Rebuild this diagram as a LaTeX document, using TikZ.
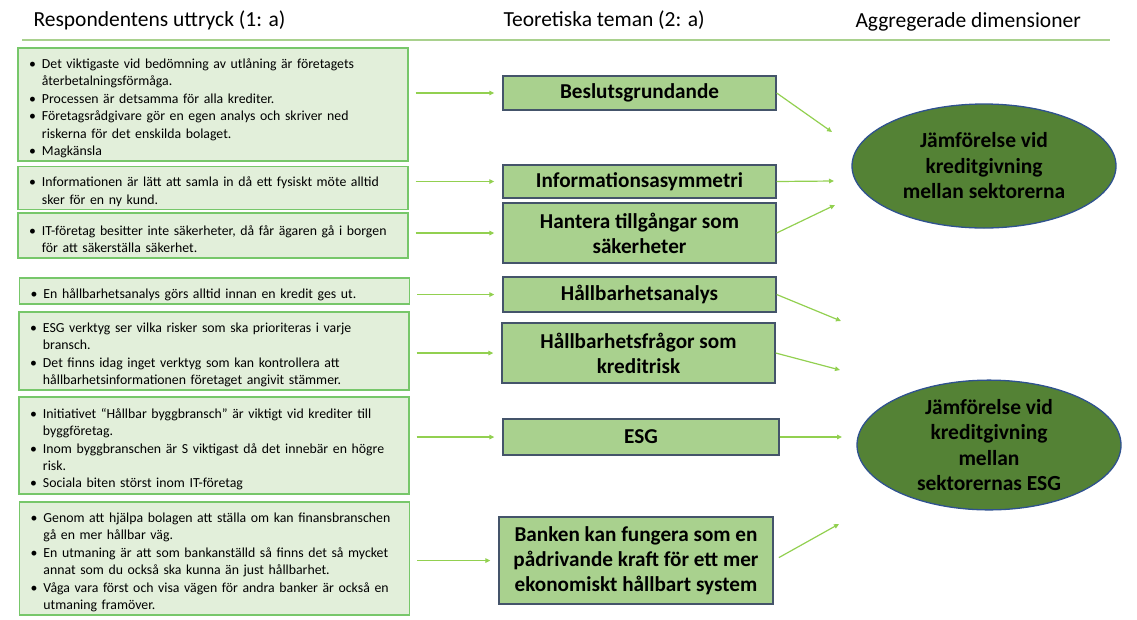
\documentclass[tikz,border=0pt]{standalone}
\usepackage{fontspec}
\setmainfont{Carlito}
\usepackage{tikz}
\usetikzlibrary{shapes}
\usetikzlibrary{shapes.geometric}
\usetikzlibrary{arrows.meta}
\definecolor{respfill}{HTML}{E2EFDA}
\definecolor{respline}{HTML}{77C76A}
\definecolor{themefill}{HTML}{A9D18E}
\definecolor{themeline}{HTML}{44546A}
\definecolor{dimfill}{HTML}{548235}
\definecolor{dimline}{HTML}{2F528F}
\definecolor{arrgreen}{HTML}{92D050}
\newcommand{\bul}{\par\hyphenpenalty=10000\hangindent=13pt\hangafter=1\noindent\makebox[13pt][l]{\textbullet}}
\tikzset{
    respbox/.style = {rectangle, line width=1.3pt, draw=respline, fill=respfill, align=left, text width=368pt, inner xsep=11pt, inner ysep=3pt, font=\fontsize{13.8}{17.4}\selectfont, text=black},
    themebox/.style = {rectangle, line width=1.3pt, draw=themeline, fill=themefill, align=center, minimum width=273pt, font=\fontsize{21.2}{25}\selectfont\bfseries, text=black},
    dimnode/.style = {ellipse, line width=1.3pt, draw=dimline, fill=dimfill, align=center, minimum width=264pt, minimum height=124pt, inner sep=0pt, font=\fontsize{21.5}{25.5}\selectfont\bfseries, text=black},
    headtxt/.style = {anchor=west, font=\fontsize{21.5}{24}\selectfont, text=black},
    arrg/.style = {-{Triangle[length=5pt,width=4.5pt]}, line width=1.2pt, arrgreen},
    headline/.style = {-, line width=1.5pt, themefill}
}

\begin{document}
\begin{tikzpicture}[x=1pt,y=-1pt]
\path[use as bounding box] (0,0) rectangle (1137,619);
%
\node[headtxt] at (30, 20) (h1) {Respondentens uttryck (1: a)};
\node[headtxt] at (500, 20) (h2) {Teoretiska teman (2: a)};
\node[headtxt] at (852, 22) (h3) {Aggregerade dimensioner};
\coordinate (hl) at (22, 40);
\coordinate (hr) at (1110, 40);
\draw[headline] (hl) -- (hr);
%
\node[respbox, minimum height=113pt] at (213, 104.5) (r1) {\bul Det viktigaste vid bedömning av utlåning är företagets\newline återbetalningsförmåga.\bul Processen är detsamma för alla krediter.\bul Företagsrådgivare gör en egen analys och skriver ned\newline riskerna för det enskilda bolaget.\bul Magkänsla\par};
\node[respbox, minimum height=42pt] at (213, 188) (r2) {\bul Informationen är lätt att samla in då ett fysiskt möte alltid\newline sker för en ny kund.\par};
\node[respbox, minimum height=45pt] at (213, 235.5) (r3) {\bul IT-företag besitter inte säkerheter, då får ägaren gå i borgen\newline för att säkerställa säkerhet.\par};
\node[respbox, minimum height=26pt] at (214.5, 291) (r4) {\bul En hållbarhetsanalys görs alltid innan en kredit ges ut.\par};
\node[respbox, minimum height=78pt] at (214, 351) (r5) {\bul ESG verktyg ser vilka risker som ska prioriteras i varje\newline bransch.\bul Det finns idag inget verktyg som kan kontrollera att\newline hållbarhetsinformationen företaget angivit stämmer.\par};
\node[respbox, minimum height=97pt] at (214, 445.5) (r6) {\bul Initiativet “Hållbar byggbransch” är viktigt vid krediter till\newline byggföretag.\bul Inom byggbranschen är S viktigast då det innebär en högre\newline risk.\bul Sociala biten störst inom IT-företag\par};
\node[respbox, minimum height=113pt] at (214.5, 558.5) (r7) {\bul Genom att hjälpa bolagen att ställa om kan finansbranschen\newline gå en mer hållbar väg.\bul En utmaning är att som bankanställd så finns det så mycket\newline annat som du också ska kunna än just hållbarhet.\bul Våga vara först och visa vägen för andra banker är också en\newline utmaning framöver.\par};
%
\node[themebox, minimum height=34pt] at (639.5, 93) (t1) {Beslutsgrundande};
\node[themebox, minimum height=33pt] at (639.5, 181.5) (t2) {Informationsasymmetri};
\node[themebox, minimum height=60pt] at (639.5, 233) (t3) {Hantera tillgångar som\\säkerheter};
\node[themebox, minimum height=35pt] at (639.5, 294.5) (t4) {Hållbarhetsanalys};
\node[themebox, minimum height=60pt] at (638.5, 353) (t5) {Hållbarhetsfrågor som\\kreditrisk};
\node[themebox, minimum height=36pt, minimum width=276pt] at (641, 437) (t6) {ESG};
\node[themebox, minimum height=87pt, minimum width=274pt, inner xsep=2pt] at (636, 560.5) (t7) {Banken kan fungera som en\\pådrivande kraft för ett mer\\ekonomiskt hållbart system};
%
\node[dimnode] at (984, 166) (d1) {Jämförelse vid\\kreditgivning\\mellan sektorerna};
\node[dimnode] at (989, 445) (d2) {Jämförelse vid\\kreditgivning\\mellan\\sektorernas ESG};
%
\foreach \i in {1,...,7}
    \draw[arrg, shorten <=7pt, shorten >=8pt] (r\i.east |- t\i.west) -- (t\i.west);
%
\coordinate (e1) at (832, 132);
\coordinate (e2) at (834, 181);
\coordinate (e3) at (835, 205);
\coordinate (e4) at (841, 321);
\coordinate (e5) at (840, 370);
\coordinate (e6) at (842, 437);
\coordinate (e7) at (839, 524);
\draw[arrg] (t1.east) -- (e1);
\draw[arrg] (t2.east) -- (e2);
\draw[arrg] (t3.east) -- (e3);
\draw[arrg] (t4.east) -- (e4);
\draw[arrg] (t5.east) -- (e5);
\draw[arrg] (t6.east) -- (e6);
\draw[arrg, shorten <=6pt] (t7.east) -- (e7);
\end{tikzpicture}
\end{document}
